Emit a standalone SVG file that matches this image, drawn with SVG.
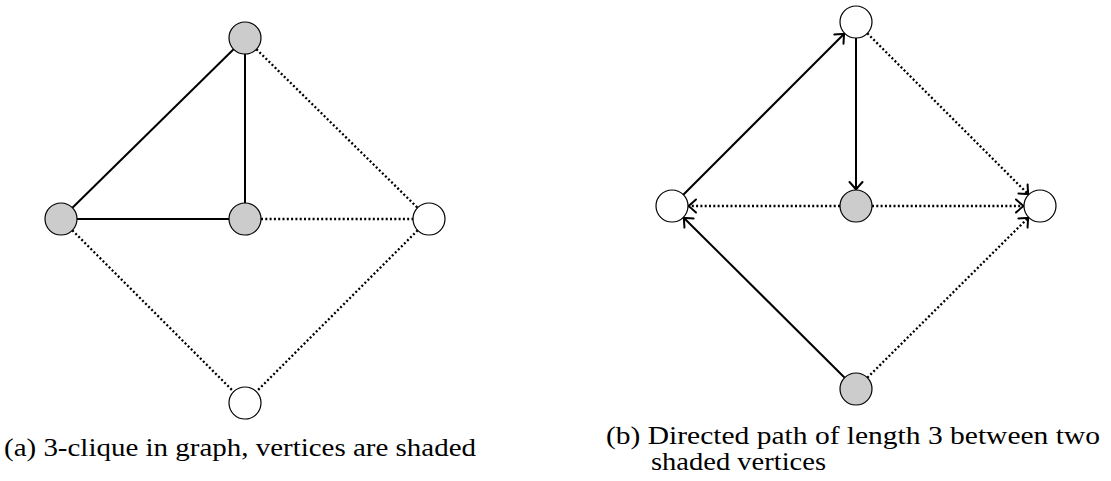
<svg xmlns="http://www.w3.org/2000/svg" width="1111" height="481" viewBox="0 0 1111 481">
  <style>
    .v { stroke: #000; stroke-width: 1.2; fill: #fff; }
    .v.shaded { fill: #cccccc; }
    .e { stroke: #000; stroke-width: 2; fill: none; }
    .e.dot { stroke-width: 2.3; stroke-dasharray: 2 2.3; }
    .arr { marker-end: url(#to); }
    .cap { font-family: "Liberation Serif", "DejaVu Serif", serif; font-size: 25px; fill: #000; }
  </style>
  <defs>
    <!-- curved open arrow tip, drawn solid even on dotted edges -->
    <marker id="to" markerUnits="userSpaceOnUse" viewBox="-9 -7 11 14" refX="0" refY="0" markerWidth="11" markerHeight="14" orient="auto" overflow="visible">
      <path d="M-7.5,-6.5 Q-2,-1.5 0,0 Q-2,1.5 -7.5,6.5" fill="none" stroke="#000" stroke-width="2" stroke-linecap="round"/>
    </marker>
  </defs>

  <!-- (a) undirected graph -->
  <g id="edges-a">
    <line class="e" x1="233.6" y1="49.2" x2="72.4" y2="207.8"/>
    <line class="e" x1="245" y1="54" x2="245" y2="203"/>
    <line class="e" x1="77" y1="219" x2="229" y2="219"/>
    <line class="e dot" x1="256.4" y1="49.2" x2="417.6" y2="207.8"/>
    <line class="e dot" x1="261" y1="219" x2="413" y2="219"/>
    <line class="e dot" x1="72.3" y1="230.3" x2="233.7" y2="391.7"/>
    <line class="e dot" x1="417.7" y1="230.3" x2="256.3" y2="391.7"/>
  </g>
  <g id="a-top"><circle class="v shaded" cx="245" cy="38" r="16"/></g>
  <g id="a-left"><circle class="v shaded" cx="61" cy="219" r="16"/></g>
  <g id="a-mid"><circle class="v shaded" cx="245" cy="219" r="16"/></g>
  <g id="a-right"><circle class="v" cx="429" cy="219" r="16"/></g>
  <g id="a-bottom"><circle class="v" cx="245" cy="403" r="16"/></g>

  <!-- (b) directed graph -->
  <g id="edges-b">
    <line class="e arr" x1="683.3" y1="194.7" x2="844.2" y2="33.8"/>
    <line class="e arr" x1="856" y1="38" x2="856" y2="189.5"/>
    <line class="e dot arr" x1="840" y1="206" x2="688.5" y2="206"/>
    <line class="e dot arr" x1="872" y1="206" x2="1023.5" y2="206"/>
    <line class="e dot arr" x1="867.3" y1="33.3" x2="1028.3" y2="194.3"/>
    <line class="e arr" x1="844.7" y1="377.7" x2="683.7" y2="217.7"/>
    <line class="e dot arr" x1="867.3" y1="377.7" x2="1028.3" y2="217.7"/>
  </g>
  <g id="b-top"><circle class="v" cx="856" cy="22" r="16"/></g>
  <g id="b-left"><circle class="v" cx="672" cy="206" r="16"/></g>
  <g id="b-mid"><circle class="v shaded" cx="856" cy="206" r="16"/></g>
  <g id="b-right"><circle class="v" cx="1040" cy="206" r="16"/></g>
  <g id="b-bottom"><circle class="v shaded" cx="856" cy="389" r="16"/></g>

  <!-- captions -->
  <g id="captions">
    <text class="cap" x="4" y="456" textLength="472" lengthAdjust="spacingAndGlyphs">(a) 3-clique in graph, vertices are shaded</text>
    <text class="cap" x="606" y="444" textLength="494" lengthAdjust="spacingAndGlyphs">(b) Directed path of length 3 between two</text>
    <text class="cap" x="651" y="470" textLength="175" lengthAdjust="spacingAndGlyphs">shaded vertices</text>
  </g>
</svg>
